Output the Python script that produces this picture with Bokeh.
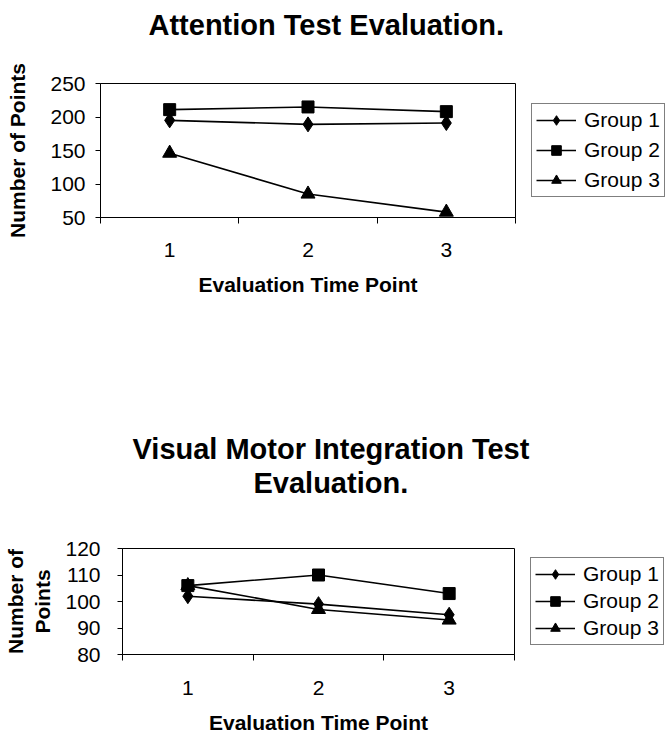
from bokeh.plotting import figure
from bokeh.models import Range1d, FixedTicker, Legend, LegendItem, Title
from bokeh.embed import file_html
from bokeh.resources import INLINE

# ---- data ----
time_points = [1, 2, 3]
x_tick_labels = ["1", "2", "3"]
groups = ["Group 1", "Group 2", "Group 3"]

attention_g1 = [195, 189, 191]
attention_g2 = [211, 215, 208]
attention_g3 = [146, 85, 58]
attention_yticks = [50, 100, 150, 200, 250]

vmi_g1 = [102, 99, 95]
vmi_g2 = [106, 110, 103]
vmi_g3 = [106, 97, 93]
vmi_yticks = [80, 90, 100, 110, 120]

FONT = "Liberation Sans"
MARKERS = ["diamond", "square", "triangle"]
MSIZES = [15, 12, 14]


def make_chart(titles, title_gap, ylabel, series, yticks,
               frame_left, frame_top, frame_w, frame_h, fig_h,
               ytick_standoff, ylabel_standoff, xtick_standoff, xlabel_standoff,
               legend_spacing):
    p = figure(output_backend="svg", toolbar_location=None,
               x_range=Range1d(0.5, 3.5), y_range=Range1d(yticks[0], yticks[-1]),
               frame_width=frame_w, frame_height=frame_h,
               min_border_left=frame_left, min_border_top=frame_top,
               min_border_bottom=fig_h - frame_top - frame_h,
               min_border_right=668 - frame_left - frame_w,
               background_fill_color="white", border_fill_color="white")
    p.title = None
    p.outline_line_color = "black"
    p.outline_line_width = 1
    p.xgrid.visible = False
    p.ygrid.visible = False

    # blank spacer between frame and title block
    p.add_layout(Title(text=" ", standoff=title_gap, text_font=FONT,
                       text_font_size="10px"), "above")
    # titles: (text, left offset from frame); first is nearest the frame
    for text, off in titles:
        p.add_layout(Title(text=text, align="left", offset=off, standoff=0,
                           text_font=FONT, text_font_size="29px",
                           text_font_style="bold", text_color="black"), "above")

    renderers = []
    for vals, mk, ms in zip(series, MARKERS, MSIZES):
        ln = p.line(time_points, vals, line_color="black", line_width=1.6)
        sc = p.scatter(time_points, vals, marker=mk, size=ms,
                       fill_color="black", line_color="black")
        renderers.append([ln, sc])

    xa = p.xaxis[0]
    xa.ticker = FixedTicker(ticks=time_points, minor_ticks=[0.5, 1.5, 2.5, 3.5])
    xa.major_label_overrides = {t: l for t, l in zip(time_points, x_tick_labels)}
    xa.major_tick_line_color = None
    xa.minor_tick_line_color = "black"
    xa.minor_tick_out = 6
    xa.minor_tick_in = 0
    xa.axis_line_color = "black"
    xa.major_label_text_font = FONT
    xa.major_label_text_font_size = "21px"
    xa.major_label_text_color = "black"
    xa.major_label_standoff = xtick_standoff
    xa.axis_label = "Evaluation Time Point"
    xa.axis_label_text_font = FONT
    xa.axis_label_text_font_size = "21px"
    xa.axis_label_text_font_style = "bold"
    xa.axis_label_text_color = "black"
    xa.axis_label_standoff = xlabel_standoff

    ya = p.yaxis[0]
    ya.ticker = FixedTicker(ticks=yticks)
    ya.major_tick_out = 5
    ya.major_tick_in = 0
    ya.minor_tick_line_color = None
    ya.axis_line_color = "black"
    ya.major_label_text_font = FONT
    ya.major_label_text_font_size = "21px"
    ya.major_label_text_color = "black"
    ya.major_label_standoff = ytick_standoff
    ya.axis_label = ylabel
    ya.axis_label_text_font = FONT
    ya.axis_label_text_font_size = "21px"
    ya.axis_label_text_font_style = "bold"
    ya.axis_label_text_color = "black"
    ya.axis_label_standoff = ylabel_standoff

    items = [LegendItem(label=g, renderers=r) for g, r in zip(groups, renderers)]
    legend = Legend(items=items, location="center_left", margin=16,
                    border_line_color="black", border_line_width=1,
                    background_fill_color="white", background_fill_alpha=1,
                    label_text_font=FONT, label_text_font_size="21px",
                    label_text_color="black", glyph_width=40, glyph_height=24,
                    label_height=24, spacing=legend_spacing, padding=4,
                    label_standoff=8)
    p.add_layout(legend, "right")
    return p


TOP_H = 300

top = make_chart([("Attention Test Evaluation.", 48)], 30, "Number of Points",
                 [attention_g1, attention_g2, attention_g3], attention_yticks,
                 frame_left=100, frame_top=83, frame_w=415, frame_h=134,
                 fig_h=TOP_H, ytick_standoff=10, ylabel_standoff=18,
                 xtick_standoff=19, xlabel_standoff=13, legend_spacing=6)

bottom = make_chart([("Evaluation.", 131), ("Visual Motor Integration Test", 10)], 37,
                    "Number of\nPoints",
                    [vmi_g1, vmi_g2, vmi_g3], vmi_yticks,
                    frame_left=122, frame_top=548 - TOP_H, frame_w=392, frame_h=106,
                    fig_h=735 - TOP_H, ytick_standoff=17, ylabel_standoff=8,
                    xtick_standoff=20, xlabel_standoff=13, legend_spacing=3)

open("out.html", "w").write(file_html([top, bottom], INLINE))
